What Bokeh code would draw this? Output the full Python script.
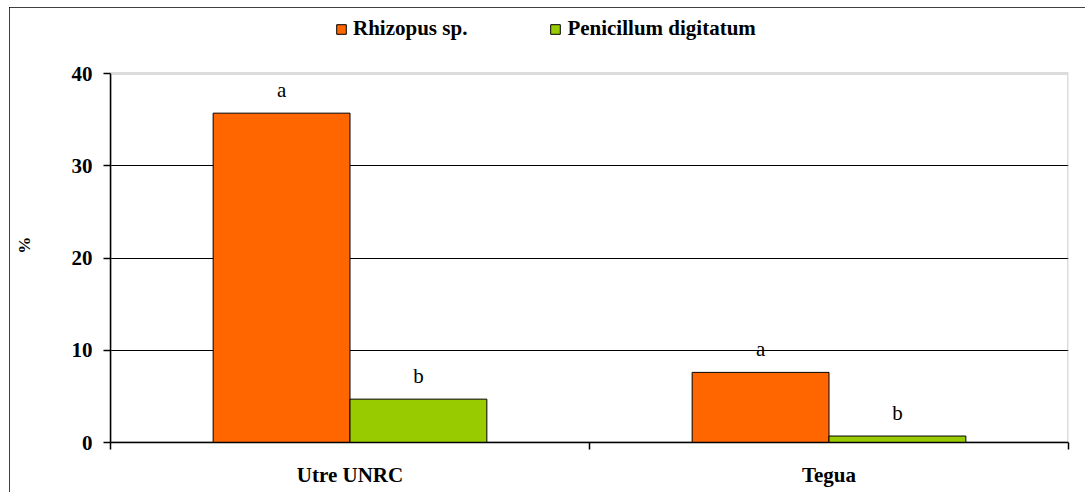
from bokeh.plotting import figure
from bokeh.models import Range1d, FixedTicker, LabelSet, ColumnDataSource, Legend, LegendItem, BoxAnnotation
from bokeh.embed import file_html
from bokeh.resources import INLINE

categories = ["Utre UNRC", "Tegua"]
series_names = ["Rhizopus sp.", "Penicillum digitatum"]
rhizopus = [35.7, 7.6]
penicillium = [4.7, 0.7]
rhizopus_letters = ["a", "a"]
penicillium_letters = ["b", "b"]
y_ticks = [0, 10, 20, 30, 40]
y_max = 40
y_title = "%"
colors = ["#FF6600", "#99CC00"]

FONT = "Liberation Serif"
bar_w = 2 / 7
FRAME_H = 433
AXIS_H = 369  # pixels between 0 and y_max

p = figure(frame_width=958, frame_height=FRAME_H, width=1076, height=485,
           x_range=Range1d(0, len(categories)), y_range=Range1d(0, y_max * FRAME_H / AXIS_H),
           output_backend="svg", toolbar_location=None,
           min_border_left=101, min_border_right=17, min_border_top=2, min_border_bottom=50)
p.styles = {"outline": "2px solid black", "outline-offset": "-2px",
            "margin-left": "9px", "margin-top": "7px"}
p.background_fill_color = "white"
p.border_fill_color = "white"
p.outline_line_color = None

# plot-area border (grey)
p.add_layout(BoxAnnotation(left=0, right=len(categories), bottom=0, top=y_max,
                           fill_alpha=0, line_color="#8c8c8c", line_width=3, level="underlay"))

centers = [i + 0.5 for i in range(len(categories))]
src_r = ColumnDataSource(dict(x=[c - bar_w / 2 for c in centers], top=rhizopus, t=rhizopus_letters))
src_p = ColumnDataSource(dict(x=[c + bar_w / 2 for c in centers], top=penicillium, t=penicillium_letters))

r1 = p.vbar(x="x", top="top", width=bar_w, source=src_r, fill_color=colors[0], line_color="black", line_width=1)
r2 = p.vbar(x="x", top="top", width=bar_w, source=src_p, fill_color=colors[1], line_color="black", line_width=1)

for src in (src_r, src_p):
    p.add_layout(LabelSet(x="x", y="top", text="t", source=src, y_offset=16,
                          text_align="center", text_baseline="alphabetic",
                          text_font=FONT, text_font_size="21px", text_color="black"))

# grid
p.xgrid.visible = False
p.ygrid.ticker = FixedTicker(ticks=[10, 20, 30])
p.ygrid.grid_line_color = "black"
p.ygrid.grid_line_width = 1
p.ygrid.level = "underlay"

# y axis
p.yaxis.bounds = (0, y_max)
p.yaxis.ticker = FixedTicker(ticks=y_ticks)
p.yaxis.major_tick_out = 7
p.yaxis.major_tick_in = 0
p.yaxis.minor_tick_out = 0
p.yaxis.minor_tick_in = 0
p.yaxis.axis_line_color = "black"
p.yaxis.axis_line_width = 1.5
p.yaxis.major_tick_line_width = 1.5
p.yaxis.major_label_text_font = FONT
p.yaxis.major_label_text_font_style = "bold"
p.yaxis.major_label_text_font_size = "21px"
p.yaxis.major_label_text_color = "black"
p.yaxis.major_label_standoff = 11
# trailing no-break spaces push the centred "%" down to the middle of the 0-40 span
p.yaxis.axis_label = y_title + "\u00a0" * 9
p.yaxis.axis_label_text_font = FONT
p.yaxis.axis_label_text_font_style = "bold"
p.yaxis.axis_label_text_font_size = "17px"
p.yaxis.axis_label_text_color = "black"
p.yaxis.axis_label_standoff = 35

# x axis
p.xaxis.bounds = (0, len(categories))
p.xaxis.ticker = FixedTicker(ticks=centers, minor_ticks=list(range(len(categories) + 1)))
p.xaxis.major_label_overrides = {c: name for c, name in zip(centers, categories)}
p.xaxis.major_tick_out = 0
p.xaxis.major_tick_in = 0
p.xaxis.minor_tick_out = 7
p.xaxis.minor_tick_in = 0
p.xaxis.minor_tick_line_width = 1.5
p.xaxis.axis_line_color = "black"
p.xaxis.axis_line_width = 1.5
p.xaxis.major_label_text_font = FONT
p.xaxis.major_label_text_font_style = "bold"
p.xaxis.major_label_text_font_size = "21px"
p.xaxis.major_label_text_color = "black"
p.xaxis.major_label_standoff = 13

legend = Legend(items=[LegendItem(label=series_names[0], renderers=[r1]),
                       LegendItem(label=series_names[1], renderers=[r2])],
                orientation="horizontal", location=(225, 401))
legend.label_text_font = FONT
legend.label_text_font_style = "bold"
legend.label_text_font_size = "21px"
legend.label_text_color = "black"
legend.glyph_width = 12
legend.glyph_height = 12
legend.label_standoff = 6
legend.spacing = 82
legend.padding = 0
legend.margin = 0
legend.border_line_color = None
legend.background_fill_color = None
p.add_layout(legend, "center")

open("out.html", "w").write(file_html(p, INLINE))
